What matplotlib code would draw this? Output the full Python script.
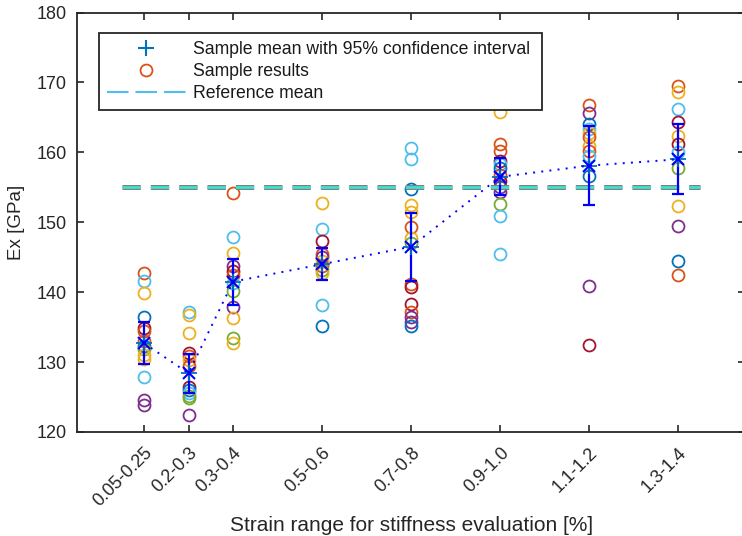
import matplotlib
matplotlib.use("Agg")
import matplotlib.pyplot as plt
from matplotlib.lines import Line2D

plt.rcParams['font.family'] = ['Liberation Sans', 'DejaVu Sans']
plt.rcParams['lines.scale_dashes'] = False

# ---- data ----
categories = ["0.05-0.25", "0.2-0.3", "0.3-0.4", "0.5-0.6", "0.7-0.8", "0.9-1.0", "1.1-1.2", "1.3-1.4"]
x_pos = [0.15, 0.25, 0.35, 0.55, 0.75, 0.95, 1.15, 1.35]

samples_1 = [142.7, 141.6, 139.9, 136.4, 134.9, 134.4, 133.0, 132.3, 131.8, 131.0, 130.5, 127.9, 124.6, 123.8]
colors_1 = ['o', 'l', 'y', 'b', 'r', 'o', 'o', 'b', 'g', 'y', 'y', 'l', 'p', 'p']
samples_2 = [137.2, 136.8, 134.1, 131.3, 130.8, 130.3, 129.4, 126.5, 126.0, 125.6, 125.1, 124.8, 122.5]
colors_2 = ['l', 'y', 'y', 'r', 'o', 'y', 'o', 'r', 'b', 'l', 'g', 'g', 'p']
samples_3 = [154.2, 147.9, 145.6, 143.8, 143.0, 142.5, 141.3, 140.1, 137.9, 136.3, 133.4, 132.7]
colors_3 = ['o', 'l', 'y', 'p', 'r', 'o', 'l', 'g', 'p', 'y', 'g', 'y']
samples_4 = [152.7, 149.0, 147.3, 145.5, 145.0, 144.4, 143.7, 143.2, 142.7, 138.1, 135.1]
colors_4 = ['y', 'l', 'r', 'o', 'p', 'y', 'o', 'g', 'y', 'l', 'b']
samples_5 = [160.6, 159.1, 154.7, 152.5, 151.5, 149.3, 147.8, 147.0, 141.1, 140.7, 138.3, 137.2, 136.4, 135.8, 135.2]
colors_5 = ['l', 'l', 'b', 'y', 'y', 'o', 'y', 'g', 'o', 'r', 'r', 'o', 'p', 'p', 'b']
samples_6 = [165.7, 161.2, 160.2, 158.7, 158.3, 157.8, 156.8, 155.9, 155.0, 154.3, 152.6, 150.9, 145.5]
colors_6 = ['y', 'o', 'o', 'r', 'l', 'b', 'o', 'r', 'p', 'p', 'g', 'l', 'l']
samples_7 = [166.7, 165.6, 164.0, 163.3, 162.8, 162.2, 160.9, 160.2, 159.5, 156.6, 140.9, 132.4]
colors_7 = ['o', 'p', 'b', 'l', 'y', 'o', 'y', 'o', 'l', 'b', 'p', 'r']
samples_8 = [169.5, 168.7, 166.2, 164.4, 162.3, 161.2, 160.0, 157.7, 152.3, 149.5, 144.4, 142.4]
colors_8 = ['o', 'y', 'l', 'r', 'y', 'r', 'l', 'g', 'y', 'p', 'b', 'o']

sample_sets = [samples_1, samples_2, samples_3, samples_4, samples_5, samples_6, samples_7, samples_8]
color_sets = [colors_1, colors_2, colors_3, colors_4, colors_5, colors_6, colors_7, colors_8]

means = [132.7, 128.4, 141.5, 144.0, 146.5, 156.5, 158.1, 159.0]
ci_half = [3.0, 2.8, 3.3, 2.25, 4.85, 2.65, 5.6, 5.0]

reference_mean = 155.0
ref_x = [0.1, 1.4]

palette = {'b': '#0072BD', 'o': '#D95319', 'y': '#EDB120', 'p': '#7E2F8E',
           'g': '#77AC30', 'l': '#4DBEEE', 'r': '#A2142F'}

# ---- figure ----
fig = plt.figure(figsize=(7.42, 5.36), dpi=100)
ax = fig.add_axes([77.25 / 742, 104 / 536, (745 - 77.25) / 742, 419.5 / 536])

for xp, vals, cols in zip(x_pos, sample_sets, color_sets):
    for v, c in zip(vals, cols):
        ax.plot([xp], [v], 'o', mfc='none', mec=palette[c], ms=8.6, mew=1.3, zorder=2)

# reference line (grey edge + turquoise core)
ax.plot(ref_x, [reference_mean] * 2, color='#7f7f7f', lw=3.6, dashes=(13.2, 7.2),
        solid_capstyle='butt', dash_capstyle='butt', zorder=3)
ax.plot(ref_x, [reference_mean] * 2, color='#3EE0D0', lw=2.0, dashes=(13.2, 7.2),
        dash_capstyle='butt', zorder=3.1)

ax.errorbar(x_pos, means, yerr=ci_half, fmt='none', ecolor='#0000FF', elinewidth=1.6,
            capsize=4.5, capthick=1.6, zorder=4)
ax.plot(x_pos, means, '+', color='#0072BD', ms=11, mew=1.3, zorder=4.5)
ax.plot(x_pos, means, color='#0000FF', marker='x', ms=9, mew=1.5, lw=1.4,
        dashes=(1.4, 4.5), zorder=5)

ax.set_xlim(0, 1.5)
ax.set_ylim(120, 180)
ax.set_yticks(range(120, 181, 10))
ax.set_xticks(x_pos)
ax.set_xticklabels(categories, rotation=45, ha='right', va='top', rotation_mode='anchor')
ax.tick_params(direction='in', length=5, width=1.2, top=True, right=True,
               labelsize=13, colors='#262626')
ax.tick_params(axis='y', pad=7.5)
ax.tick_params(axis='x', pad=9)
for s in ax.spines.values():
    s.set_linewidth(1.3)
    s.set_color('#262626')

ax.set_xlabel('Strain range for stiffness evaluation [%]', fontsize=15, color='#262626', labelpad=4)
ax.set_ylabel('Ex [GPa]', fontsize=13.5, color='#262626', labelpad=8)

handles = [
    Line2D([], [], ls='none', marker='+', color='#0072BD', ms=11, mew=1.5),
    Line2D([], [], ls='none', marker='o', mfc='none', mec='#D95319', ms=8.6, mew=1.3),
    Line2D([], [], color='#4DBEEE', lw=1.5, dashes=(15.5, 5)),
]
labels = ['Sample mean with 95% confidence interval', 'Sample results', 'Reference mean']
leg = ax.legend(handles, labels, loc='upper left', mode='expand',
                bbox_to_anchor=(0.033, 0.7716, 0.6625, 0.9504 - 0.7716),
                fontsize=12.7, frameon=True, fancybox=False, framealpha=1,
                edgecolor='#262626', handlelength=4.5, handletextpad=0.4,
                borderpad=0.42, labelspacing=0.3, borderaxespad=0)
leg.get_frame().set_linewidth(1.3)
for t in leg.get_texts():
    t.set_color('#1a1a1a')

fig.savefig('out.png', dpi=100)
